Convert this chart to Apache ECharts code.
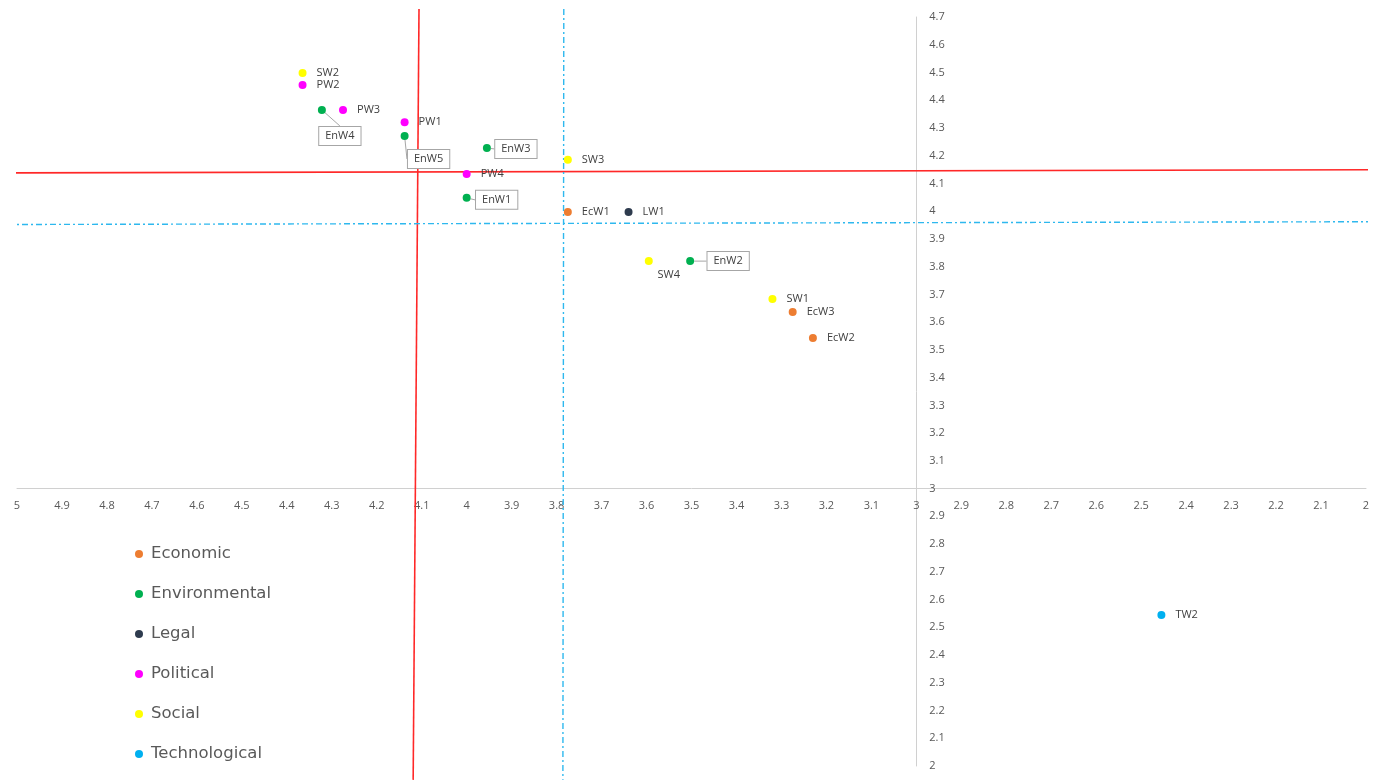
<!DOCTYPE html>
<html>
<head>
<meta charset="utf-8">
<script src="https://cdn.jsdelivr.net/npm/echarts@6/dist/echarts.min.js"></script>
<style>
  html, body { margin: 0; padding: 0; background: #ffffff; }
  #chart { width: 1376px; height: 780px; }
</style>
</head>
<body>
<div id="chart"></div>
<script>
// Factor scores: [x, y, code]
const economic = [[3.775, 3.997, 'EcW1'], [3.23, 3.543, 'EcW2'], [3.275, 3.637, 'EcW3']];
const environmental = [[4.00, 4.048, 'EnW1'], [3.503, 3.82, 'EnW2'], [3.955, 4.228, 'EnW3'], [4.322, 4.365, 'EnW4'], [4.138, 4.271, 'EnW5']];
const legal = [[3.64, 3.997, 'LW1']];
const political = [[4.138, 4.321, 'PW1'], [4.365, 4.455, 'PW2'], [4.275, 4.365, 'PW3'], [4.00, 4.134, 'PW4']];
const social = [[3.32, 3.683, 'SW1'], [4.365, 4.498, 'SW2'], [3.775, 4.185, 'SW3'], [3.595, 3.82, 'SW4']];
const technological = [[2.455, 2.544, 'TW2']];

const categories = ['Economic', 'Environmental', 'Legal', 'Political', 'Social', 'Technological'];
const categoryData = [economic, environmental, legal, political, social, technological];
const colors = ['#ED7D31', '#00B050', '#2E3B4E', '#FF00FF', '#FFFF00', '#00B0F0'];

// Threshold lines (red) and mean lines (blue), as end points
const redVertical = [[4.106, 4.729], [4.119, 1.95]];
const redHorizontal = [[5.02, 4.138], [1.978, 4.1496]];
const blueVertical = [[3.784, 4.729], [3.786, 1.95]];
const blueHorizontal = [[5.02, 3.952], [1.978, 3.962]];

const xMin = 2, xMax = 5, yMin = 2, yMax = 4.7, step = 0.1;
const crossX = 3, crossY = 3;

const W = 1376, H = 780;
const grid = { left: 17, right: 10, top: 17, bottom: 14 };
const gridW = W - grid.left - grid.right;
const gridH = H - grid.top - grid.bottom;
// axes cross at (3, 3) instead of the plot edge
const xAxisOffset = -gridH * (crossY - yMin) / (yMax - yMin);
const yAxisOffset = -gridW * (xMax - crossX) / (xMax - xMin);

// callout boxes for the environmental codes (pixel shifts from the point)
const calloutShift = {
  EnW1: [30, 2], EnW2: [38, 0], EnW3: [29, 1], EnW4: [18, 26], EnW5: [24, 23]
};

const axisColor = '#D0D0D0';
const textColor = '#595959';
const labelFont = "'Open Sans', 'Noto Sans', sans-serif";

const series = categories.map((name, i) => {
  const s = {
    name: name,
    type: 'scatter',
    symbolSize: 8,
    itemStyle: { color: colors[i], opacity: 1 },
    data: categoryData[i].map(d => ({ value: [d[0], d[1]], name: d[2] })),
    label: {
      show: true,
      position: 'right',
      distance: 10,
      formatter: p => p.name,
      fontSize: 11,
      fontFamily: labelFont,
      color: '#404040'
    },
    emphasis: { disabled: true },
    z: 5
  };
  if (name === 'Environmental') {
    s.label = {
      show: true,
      position: 'inside',
      formatter: p => p.name,
      fontSize: 11,
      fontFamily: labelFont,
      color: '#404040',
      backgroundColor: '#ffffff',
      borderColor: '#A6A6A6',
      borderWidth: 1,
      padding: [4, 6, 3, 6]
    };
    s.labelLine = { show: true, lineStyle: { color: '#A6A6A6', width: 1 } };
    s.labelLayout = function (p) {
      const nm = environmental[p.dataIndex][2];
      const sh = calloutShift[nm] || [0, 0];
      return { dx: sh[0], dy: sh[1] };
    };
  }
  if (name === 'Social') {
    s.data = s.data.map(d => d.name === 'SW4'
      ? Object.assign({}, d, { label: { position: 'inside', offset: [20, 14] } })
      : d);
  }
  return s;
});

function refLine(points, color, width, type) {
  return {
    type: 'line',
    data: points,
    symbol: 'none',
    clip: false,
    silent: true,
    lineStyle: { color: color, width: width, type: type },
    z: 3,
    legendHoverLink: false,
    tooltip: { show: false }
  };
}
series.push(refLine(redVertical, '#FF2828', 1.6, 'solid'));
series.push(refLine(redHorizontal, '#FF2828', 1.6, 'solid'));
series.push(refLine(blueVertical, '#2EB8EE', 1.4, [6, 3, 2, 3]));
series.push(refLine(blueHorizontal, '#2EB8EE', 1.4, [6, 3, 2, 3]));

const chart = echarts.init(document.getElementById('chart'), null, { renderer: 'canvas' });
chart.setOption({
  animation: false,
  backgroundColor: '#ffffff',
  grid: grid,
  xAxis: {
    type: 'value',
    min: xMin, max: xMax, interval: step,
    inverse: true,
    position: 'bottom',
    offset: xAxisOffset,
    splitLine: { show: false },
    axisTick: { show: false },
    axisLine: { show: true, onZero: false, lineStyle: { color: axisColor, width: 1 } },
    axisLabel: { color: textColor, fontSize: 11, fontFamily: labelFont, margin: 12, showMinLabel: true, showMaxLabel: true }
  },
  yAxis: {
    type: 'value',
    min: yMin, max: yMax, interval: step,
    position: 'left',
    offset: yAxisOffset,
    splitLine: { show: false },
    axisTick: { show: false },
    axisLine: { show: true, onZero: false, lineStyle: { color: axisColor, width: 1 } },
    axisLabel: { inside: true, align: 'left', margin: 13, color: textColor, fontSize: 11, fontFamily: labelFont, showMinLabel: true, showMaxLabel: true }
  },
  legend: {
    data: categories,
    orient: 'vertical',
    left: 130,
    top: 539,
    icon: 'circle',
    itemWidth: 14,
    itemHeight: 8,
    itemGap: 20,
    textStyle: { color: textColor, fontSize: 16.5, fontFamily: "'DejaVu Sans', sans-serif", lineHeight: 20 }
  },
  series: series
});
</script>
</body>
</html>
